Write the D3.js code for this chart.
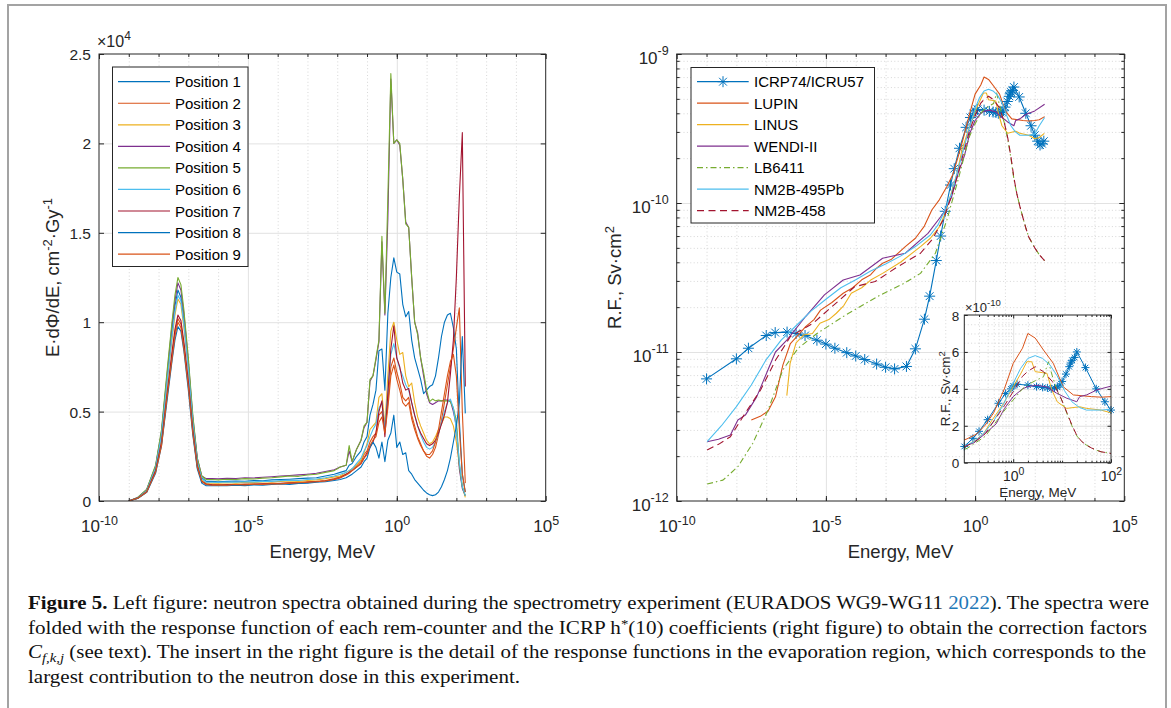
<!DOCTYPE html>
<html>
<head>
<meta charset="utf-8">
<script src="https://cdn.jsdelivr.net/npm/d3@7"></script>
<style>
  body { margin: 0; background: #fff; }
</style>
</head>
<body>
<svg id="fig" width="1171" height="708"></svg>
<script>
// ---------------- data ----------------
// left figure: log10(E / MeV) grid shared by the nine spectra
const spectrumLogE = [-9.0, -8.7, -8.4, -8.1, -7.9, -7.7, -7.55, -7.45, -7.35, -7.25, -7.15, -7.0, -6.85, -6.7, -6.55, -6.4,
  -6.2, -6.0, -5.7, -5.4, -5.1, -4.8, -4.5, -4.2, -3.9, -3.6, -3.3, -3.0, -2.7, -2.4, -2.1,
  -1.9, -1.7, -1.6, -1.5, -1.35, -1.2, -1.1, -1.0, -0.9, -0.8, -0.7, -0.6, -0.5, -0.4, -0.3, -0.2, -0.1,
  0.0, 0.1, 0.2, 0.3, 0.4, 0.5, 0.6, 0.7, 0.8, 0.9, 1.0, 1.1, 1.2, 1.3, 1.4, 1.5, 1.6, 1.7, 1.8, 1.9, 2.0, 2.1, 2.2, 2.3];

// E.dPhi/dE in units of 1e4 cm^-2.Gy^-1
const position1 = [0, 0.018, 0.06, 0.19, 0.38, 0.71, 0.95, 1.09, 1.18, 1.14, 1.01, 0.76, 0.45, 0.23, 0.13, 0.11,
  0.11, 0.108, 0.11, 0.112, 0.11, 0.115, 0.113, 0.118, 0.12, 0.122, 0.125, 0.128, 0.13, 0.14, 0.15,
  0.16, 0.17, 0.2, 0.21, 0.25, 0.28, 0.33, 0.36, 0.48, 0.54, 0.62, 0.84, 0.85, 0.62, 1.05, 1.25, 1.36,
  1.28, 1.27, 1.1, 1.03, 1.06, 0.9, 0.8, 0.74, 0.68, 0.6, 0.62, 0.64, 0.65, 0.7, 0.8, 0.92, 1.0, 1.04, 1.05, 0.97, 0.85, 0.45, 0.15, 0.05];
const position2 = [0, 0.015, 0.05, 0.165, 0.32, 0.61, 0.81, 0.94, 1.02, 0.99, 0.87, 0.65, 0.39, 0.19, 0.11, 0.093,
  0.09, 0.092, 0.09, 0.094, 0.093, 0.096, 0.095, 0.1, 0.098, 0.102, 0.105, 0.108, 0.11, 0.115, 0.125,
  0.135, 0.15, 0.16, 0.18, 0.2, 0.22, 0.26, 0.28, 0.33, 0.36, 0.38, 0.48, 0.5, 0.4, 0.55, 0.75, 0.8,
  0.72, 0.66, 0.58, 0.56, 0.58, 0.48, 0.42, 0.36, 0.32, 0.28, 0.25, 0.24, 0.26, 0.3, 0.37, 0.45, 0.55, 0.65, 0.75, 0.85, 0.97, 1.08, 0.5, 0.1];
const position3 = [0, 0.017, 0.056, 0.18, 0.36, 0.68, 0.9, 1.04, 1.13, 1.1, 0.97, 0.73, 0.43, 0.21, 0.12, 0.1,
  0.1, 0.1, 0.102, 0.1, 0.104, 0.103, 0.107, 0.106, 0.11, 0.112, 0.11, 0.115, 0.118, 0.125, 0.135,
  0.14, 0.16, 0.17, 0.18, 0.2, 0.23, 0.27, 0.32, 0.4, 0.42, 0.44, 0.58, 0.6, 0.42, 0.7, 0.95, 1.0,
  0.9, 0.82, 0.83, 0.7, 0.64, 0.66, 0.55, 0.47, 0.42, 0.38, 0.34, 0.32, 0.33, 0.36, 0.4, 0.43, 0.47, 0.47, 0.46, 0.42, 0.33, 0.2, 0.08, 0.02];
const position4 = [0, 0.019, 0.063, 0.195, 0.39, 0.73, 0.98, 1.12, 1.22, 1.18, 1.05, 0.78, 0.47, 0.24, 0.14, 0.125,
  0.125, 0.124, 0.127, 0.126, 0.13, 0.129, 0.133, 0.136, 0.14, 0.143, 0.146, 0.15, 0.155, 0.165, 0.175,
  0.19, 0.2, 0.28, 0.22, 0.29, 0.34, 0.41, 0.44, 0.67, 0.7, 0.79, 0.89, 1.45, 1.04, 1.58, 2.36, 2.0,
  2.02, 1.99, 1.8, 1.56, 1.53, 1.25, 1.0, 0.94, 0.8, 0.7, 0.6, 0.55, 0.54, 0.55, 0.56, 0.56, 0.565, 0.565, 0.56, 0.5, 0.42, 0.18, 0.07, 0.03];
const position5 = [0, 0.02, 0.065, 0.2, 0.4, 0.75, 1.0, 1.15, 1.25, 1.21, 1.07, 0.8, 0.48, 0.24, 0.14, 0.12,
  0.12, 0.118, 0.122, 0.12, 0.125, 0.123, 0.128, 0.13, 0.135, 0.14, 0.138, 0.145, 0.15, 0.16, 0.17,
  0.19, 0.2, 0.31, 0.22, 0.29, 0.34, 0.42, 0.44, 0.68, 0.7, 0.8, 0.9, 1.48, 1.05, 1.7, 2.39, 2.0,
  2.02, 2.0, 1.8, 1.55, 1.53, 1.25, 1.0, 0.93, 0.8, 0.72, 0.62, 0.556, 0.57, 0.56, 0.565, 0.56, 0.56, 0.56, 0.555, 0.52, 0.45, 0.2, 0.08, 0.03];
const position6 = [0, 0.017, 0.058, 0.185, 0.37, 0.69, 0.92, 1.06, 1.15, 1.12, 0.99, 0.74, 0.44, 0.22, 0.125, 0.105,
  0.105, 0.104, 0.106, 0.105, 0.108, 0.107, 0.11, 0.11, 0.114, 0.116, 0.115, 0.12, 0.123, 0.13, 0.14,
  0.15, 0.16, 0.17, 0.18, 0.21, 0.24, 0.28, 0.31, 0.36, 0.4, 0.43, 0.52, 0.55, 0.4, 0.62, 0.82, 0.88,
  0.8, 0.74, 0.7, 0.65, 0.62, 0.55, 0.48, 0.42, 0.37, 0.33, 0.3, 0.29, 0.3, 0.33, 0.38, 0.44, 0.5, 0.55, 0.57, 0.52, 0.4, 0.22, 0.08, 0.03];
const position7 = [0, 0.016, 0.052, 0.17, 0.33, 0.62, 0.83, 0.96, 1.04, 1.01, 0.89, 0.67, 0.4, 0.2, 0.11, 0.095,
  0.09, 0.088, 0.092, 0.09, 0.094, 0.092, 0.096, 0.095, 0.099, 0.1, 0.098, 0.104, 0.108, 0.112, 0.12,
  0.13, 0.15, 0.16, 0.17, 0.19, 0.21, 0.24, 0.27, 0.3, 0.33, 0.38, 0.5, 0.56, 0.36, 0.6, 0.85, 0.98,
  0.8, 0.75, 0.66, 0.62, 0.63, 0.55, 0.48, 0.42, 0.38, 0.35, 0.32, 0.31, 0.32, 0.34, 0.38, 0.43, 0.48, 0.55, 0.71, 0.9, 1.25, 1.7, 2.06, 0.64];
const position8 = [0, 0.014, 0.048, 0.155, 0.31, 0.58, 0.78, 0.9, 0.975, 0.95, 0.84, 0.62, 0.37, 0.18, 0.1, 0.085,
  0.085, 0.087, 0.085, 0.088, 0.086, 0.09, 0.088, 0.092, 0.095, 0.093, 0.098, 0.1, 0.105, 0.108, 0.115,
  0.12, 0.13, 0.14, 0.15, 0.17, 0.19, 0.22, 0.24, 0.3, 0.33, 0.3, 0.24, 0.33, 0.22, 0.34, 0.38, 0.48,
  0.3, 0.33, 0.26, 0.27, 0.17, 0.15, 0.12, 0.1, 0.08, 0.06, 0.045, 0.035, 0.03, 0.035, 0.05, 0.08, 0.12, 0.17, 0.24, 0.33, 0.42, 0.55, 0.92, 0.49];
const position9 = [0, 0.015, 0.05, 0.16, 0.31, 0.6, 0.79, 0.92, 1.0, 0.97, 0.85, 0.64, 0.38, 0.19, 0.11, 0.092,
  0.088, 0.09, 0.089, 0.092, 0.09, 0.094, 0.093, 0.097, 0.096, 0.1, 0.102, 0.105, 0.108, 0.112, 0.12,
  0.13, 0.145, 0.155, 0.17, 0.19, 0.21, 0.24, 0.26, 0.31, 0.34, 0.36, 0.44, 0.47, 0.38, 0.52, 0.7, 0.76,
  0.68, 0.62, 0.55, 0.53, 0.55, 0.46, 0.4, 0.35, 0.31, 0.28, 0.26, 0.26, 0.28, 0.33, 0.4, 0.5, 0.6, 0.7, 0.78, 0.82, 0.7, 0.4, 0.15, 0.05];

const positionNames = ["Position 1", "Position 2", "Position 3", "Position 4", "Position 5",
  "Position 6", "Position 7", "Position 8", "Position 9"];
const positionColors = ["#0072BD", "#D95319", "#EDB120", "#7E2F8E", "#77AC30", "#4DBEEE", "#A2142F", "#0072BD", "#D95319"];

// right figure: ICRP74 h*(10), energies in MeV, values in pSv.cm2
const icrpE = [1e-9, 1e-8, 2.53e-8, 1e-7, 2e-7, 5e-7, 1e-6, 2e-6, 5e-6, 1e-5, 2e-5, 5e-5, 1e-4, 2e-4, 5e-4, 1e-3, 2e-3, 5e-3,
  0.01, 0.02, 0.03, 0.05, 0.07, 0.1, 0.15, 0.2, 0.3, 0.5, 0.7, 0.9, 1, 1.2, 2, 3, 4, 5, 6, 7, 8, 9, 10,
  12, 14, 15, 16, 18, 20, 30, 50, 75, 100, 125, 150, 175, 201];
const icrpH = [6.6, 9.0, 10.6, 12.9, 13.5, 13.6, 13.3, 12.9, 12.0, 11.3, 10.6, 9.9, 9.4, 8.9, 8.3, 7.9, 7.7, 8.0,
  10.5, 16.6, 23.7, 41.1, 60.0, 88.0, 132, 170, 233, 322, 375, 400, 416, 425, 420, 412, 408, 405, 400, 405, 409, 420, 440,
  480, 520, 540, 555, 570, 600, 515, 400, 330, 285, 260, 245, 250, 260];

// rem-counter response functions: [log10(E / MeV), pSv.cm2]
const lupinRF = [[-7.5, 3.5], [-7.2, 3.7], [-6.94, 4.0], [-6.69, 5.0], [-6.44, 8.2], [-6.19, 11.4], [-5.9, 13.2], [-5.68, 14.8],
  [-5.4, 16.5], [-5.18, 19.1], [-4.8, 21.5], [-4.42, 24.8], [-4.1, 27], [-3.8, 30.5], [-3.5, 33], [-3.3, 36.5], [-3.1, 39.4],
  [-2.8, 42], [-2.34, 51], [-2.0, 58], [-1.7, 70], [-1.45, 89.7], [-1.2, 105], [-0.945, 129], [-0.75, 155], [-0.57, 204],
  [-0.4, 270], [-0.18, 400], [0, 538], [0.19, 620], [0.3, 700], [0.45, 675], [0.62, 610], [0.82, 538], [1.02, 412],
  [1.23, 367], [1.43, 362], [1.6, 358], [1.8, 355], [2.0, 358], [2.15, 362], [2.33, 380]];
const linusRF = [[-6.31, 5.1], [-6.2, 8.4], [-6.0, 11.5], [-5.75, 13.0], [-5.45, 13.3], [-5.2, 15.6], [-4.9, 16.5], [-4.65, 18.2],
  [-4.4, 20.5], [-4.15, 24.8], [-3.8, 27], [-3.5, 30.4], [-3.1, 33.7], [-2.5, 40], [-1.83, 51], [-1.5, 58], [-1.2, 69],
  [-1.0, 85], [-0.8, 116], [-0.6, 160], [-0.44, 227], [-0.2, 320], [0, 412], [0.15, 480], [0.28, 547], [0.38, 547],
  [0.45, 493], [0.6, 488], [0.69, 484], [0.79, 394], [0.9, 330], [1.09, 294], [1.36, 303], [1.5, 294], [1.8, 285],
  [2.0, 270], [2.15, 275], [2.32, 293]];
const wendiRF = [[-8.98, 2.5], [-8.6, 2.6], [-8.2, 2.77], [-7.95, 3.5], [-7.7, 3.77], [-7.32, 5.0], [-6.94, 7.6], [-6.69, 10.0],
  [-6.31, 12.0], [-5.68, 17.3], [-5.05, 24.2], [-4.42, 30.4], [-3.86, 32.9], [-3.1, 42.6], [-2.34, 46], [-1.58, 62.6],
  [-1.07, 85], [-0.8, 108], [-0.57, 158], [-0.35, 210], [-0.18, 293], [0, 358], [0.19, 400], [0.3, 412], [0.48, 420],
  [0.69, 410], [0.89, 376], [1.09, 350], [1.3, 330], [1.36, 358], [1.5, 367], [1.71, 394], [2.0, 415], [2.33, 460]];
const lb6411RF = [[-8.98, 1.3], [-8.45, 1.38], [-7.95, 1.7], [-7.45, 2.44], [-6.94, 4.07], [-6.44, 7.6], [-5.93, 10.6], [-5.3, 13.3],
  [-4.42, 17.3], [-3.67, 21.2], [-3.16, 24.2], [-2.41, 28.7], [-1.83, 33.7], [-1.33, 46], [-0.945, 77], [-0.57, 143],
  [-0.2, 276], [0, 340], [0.19, 400], [0.28, 420], [0.48, 448], [0.62, 466], [0.72, 547], [0.8, 470], [0.9, 390],
  [1.0, 335], [1.1, 265], [1.2, 200], [1.3, 145], [1.4, 115], [1.5, 95], [1.6, 80], [1.7, 68], [1.8, 59], [2.0, 50],
  [2.15, 45], [2.33, 41]];
const nm2b495RF = [[-8.98, 2.5], [-8.5, 3.2], [-8, 4.3], [-7.5, 6.0], [-7, 8.9], [-6.5, 12.0], [-6, 15.0], [-5.5, 18.8], [-5, 22.6],
  [-4.5, 27], [-4, 30.5], [-3.5, 35], [-3, 39], [-2.5, 44], [-2, 51], [-1.5, 61], [-1.25, 71], [-1, 90], [-0.8, 114],
  [-0.6, 160], [-0.4, 225], [-0.2, 315], [0, 430], [0.15, 510], [0.3, 565], [0.45, 580], [0.6, 565], [0.75, 530],
  [0.9, 470], [1.05, 390], [1.2, 330], [1.35, 300], [1.5, 285], [1.65, 285], [1.8, 285], [2.0, 290], [2.15, 330], [2.33, 375]];
const nm2b458RF = [[-8.98, 2.2], [-8.6, 2.4], [-8.2, 2.7], [-7.7, 3.9], [-7.19, 5.56], [-6.69, 8.8], [-6.19, 12.7], [-5.43, 15.6],
  [-4.67, 21.2], [-4.04, 27.4], [-3.35, 29.7], [-2.59, 37.4], [-1.83, 46], [-1.45, 56.5], [-1.07, 77], [-0.8, 110],
  [-0.57, 158], [-0.18, 309], [0, 385], [0.19, 468], [0.3, 495], [0.45, 520], [0.62, 493], [0.8, 440], [0.96, 360],
  [1.1, 270], [1.2, 205], [1.3, 148], [1.4, 115], [1.5, 95], [1.6, 80], [1.7, 68], [1.8, 59], [2.0, 50], [2.15, 45], [2.33, 41]];

const rfNames = ["ICRP74/ICRU57", "LUPIN", "LINUS", "WENDI-II", "LB6411", "NM2B-495Pb", "NM2B-458"];
const rfColors = ["#0072BD", "#D95319", "#EDB120", "#7E2F8E", "#77AC30", "#4DBEEE", "#A2142F"];
const rfDashes = [null, null, null, null, "6,3,1.5,3", null, "7,4.5"];

// tick values
const energyTicks = [1e-10, 1e-5, 1, 1e5];
const energyDecades = d3.range(-9, 5).map(e => 10 ** e);
const spectrumTicks = [0, 0.5, 1, 1.5, 2, 2.5];
const rfTicks = [1e-12, 1e-11, 1e-10, 1e-9];
const insetXTicks = [1, 100];
const insetYTicks = [0, 2, 4, 6, 8];   // x 1e-10

// ---------------- drawing ----------------
const FONT = '"Liberation Sans", Arial, Helvetica, sans-serif';
const INK = "#262626";
const svg = d3.select("#fig");

svg.append("rect").attr("x", 8).attr("y", 5).attr("width", 1158).attr("height", 740)
  .attr("fill", "none").attr("stroke", "#a3a3a3").attr("stroke-width", 2);

const defs = svg.append("defs");
function clip(id, b) {
  defs.append("clipPath").attr("id", id).append("rect")
    .attr("x", b.x0).attr("y", b.y0).attr("width", b.x1 - b.x0).attr("height", b.y1 - b.y0);
}

function grid(g, scale, vals, dir, b, major) {
  const len = dir === "x" ? b.y1 - b.y0 : b.x1 - b.x0;
  const ax = dir === "x" ? d3.axisBottom(scale) : d3.axisLeft(scale);
  const gg = g.append("g")
    .attr("transform", dir === "x" ? `translate(0,${b.y1})` : `translate(${b.x0},0)`)
    .call(ax.tickValues(vals).tickSize(-len).tickFormat(""));
  gg.select(".domain").remove();
  gg.selectAll("line")
    .attr("stroke", major ? "#e2e2e2" : "#cdcdcd")
    .attr("stroke-width", major ? 1 : 0.8)
    .attr("stroke-dasharray", major ? null : "1,2.4");
}

function ticks(g, scale, vals, b, size, sides) {
  const pos = {
    bottom: [d3.axisBottom, `translate(0,${b.y1})`], top: [d3.axisTop, `translate(0,${b.y0})`],
    left: [d3.axisLeft, `translate(${b.x0},0)`], right: [d3.axisRight, `translate(${b.x1},0)`]
  };
  sides.forEach(s => {
    const gg = g.append("g").attr("transform", pos[s][1])
      .call(pos[s][0](scale).tickValues(vals).tickSize(-size).tickFormat(""));
    gg.select(".domain").remove();
    gg.selectAll("line").attr("stroke", INK).attr("stroke-width", 1);
  });
}

function powerText(t, d, base, sup, rise) {
  t.text(null);
  t.append("tspan").attr("font-size", base).text("10");
  t.append("tspan").attr("font-size", sup).attr("dy", -rise).text(Math.round(Math.log10(d)));
}

function xLabels(g, scale, vals, b, y, fmt) {
  const gg = g.append("g").attr("transform", `translate(0,${b.y1})`)
    .call(d3.axisBottom(scale).tickValues(vals).tickSize(0).tickFormat(d => d));
  gg.select(".domain").remove();
  gg.attr("font-family", FONT);
  gg.selectAll("text").attr("y", y).attr("dy", null).attr("fill", INK)
    .each(function (d) { fmt(d3.select(this), d); });
}

function yLabels(g, scale, vals, b, x, y, size, fmt) {
  const gg = g.append("g").attr("transform", `translate(${b.x0},0)`)
    .call(d3.axisLeft(scale).tickValues(vals).tickSize(0).tickFormat(d => d));
  gg.select(".domain").remove();
  gg.attr("font-family", FONT).attr("font-size", size);
  gg.selectAll("text").attr("x", -x).attr("dy", null).attr("y", y).attr("fill", INK)
    .each(function (d) { fmt(d3.select(this), d); });
}

function box(g, b) {
  g.append("rect").attr("x", b.x0).attr("y", b.y0).attr("width", b.x1 - b.x0).attr("height", b.y1 - b.y0)
    .attr("fill", "none").attr("stroke", INK).attr("stroke-width", 1);
}

function star(r) {
  const a = r * 0.7071;
  return `M${-r},0H${r}M0,${-r}V${r}M${-a},${-a}L${a},${a}M${-a},${a}L${a},${-a}`;
}

function label(g, x, y, rotate, size, parts) {
  const t = g.append("text").attr("font-family", FONT).attr("font-size", size).attr("fill", INK)
    .attr("text-anchor", "middle")
    .attr("transform", `translate(${x},${y})` + (rotate ? " rotate(-90)" : ""));
  let shift = 0;
  parts.forEach(p => {
    const s = p.sup ? -size * 0.38 : 0;
    const ts = t.append("tspan").text(p.t);
    if (s !== shift) ts.attr("dy", s - shift);
    if (p.sup) ts.attr("font-size", size * 0.7);
    shift = s;
  });
  return t;
}

// ---------- left panel ----------
const BL = { x0: 99, x1: 545.7, y0: 54, y1: 501 };
const xL = d3.scaleLog().domain([1e-10, 1e5]).range([BL.x0, BL.x1]);
const yL = d3.scaleLinear().domain([0, 2.5]).range([BL.y1, BL.y0]);
clip("clipL", BL);

const gL = svg.append("g");
gL.append("rect").attr("x", BL.x0).attr("y", BL.y0).attr("width", BL.x1 - BL.x0).attr("height", BL.y1 - BL.y0).attr("fill", "#fff");
grid(gL, xL, energyDecades.filter(v => ![1e-5, 1].includes(v)), "x", BL, false);
grid(gL, xL, [1e-5, 1], "x", BL, true);
grid(gL, yL, spectrumTicks.slice(1, -1), "y", BL, true);

const positions = [position1, position2, position3, position4, position5, position6, position7, position8, position9];
const lineL = d3.line().defined(d => d[1] != null).x(d => xL(10 ** d[0])).y(d => yL(d[1]));
positions.forEach((vals, i) => {
  gL.append("path").datum(spectrumLogE.map((e, k) => [e, vals[k]]))
    .attr("d", lineL).attr("fill", "none").attr("stroke", positionColors[i])
    .attr("stroke-width", 1.1).attr("stroke-linejoin", "round").attr("clip-path", "url(#clipL)");
});

ticks(gL, xL, energyTicks, BL, 5, ["bottom", "top"]);
ticks(gL, xL, energyDecades, BL, 3, ["bottom", "top"]);
ticks(gL, yL, spectrumTicks, BL, 5, ["left", "right"]);
box(gL, BL);
xLabels(gL, xL, energyTicks, BL, 31, (t, d) => powerText(t, d, 17, 12.5, 7));
yLabels(gL, yL, spectrumTicks, BL, 8, 5.5, 15.5, (t, d) => t.text(d));

const mult = gL.append("text").attr("x", 97).attr("y", 47).attr("font-family", FONT).attr("fill", INK).attr("font-size", 16);
mult.append("tspan").text("\u00d710");
mult.append("tspan").attr("font-size", 12).attr("dy", -7).text("4");

label(gL, (BL.x0 + BL.x1) / 2, 558, false, 18.5, [{ t: "Energy, MeV" }]);
label(gL, 59, (BL.y0 + BL.y1) / 2, true, 18.5,
  [{ t: "E\u00b7d\u03a6/dE, cm" }, { t: "-2", sup: true }, { t: "\u00b7Gy" }, { t: "-1", sup: true }]);

// legend left
const legL = gL.append("g");
legL.append("rect").attr("x", 112.5).attr("y", 67).attr("width", 135.5).attr("height", 199.5)
  .attr("fill", "#fff").attr("stroke", INK).attr("stroke-width", 1);
positionNames.forEach((n, i) => {
  const y = 81.7 + i * 21.55;
  legL.append("line").attr("x1", 118).attr("x2", 170).attr("y1", y).attr("y2", y)
    .attr("stroke", positionColors[i]).attr("stroke-width", 1.2);
  legL.append("text").attr("x", 175).attr("y", y + 5.5).attr("font-family", FONT).attr("font-size", 15)
    .attr("fill", "#000").text(n);
});

// ---------- right panel ----------
const BR = { x0: 676.7, x1: 1124.3, y0: 54, y1: 501 };
const xR = d3.scaleLog().domain([1e-10, 1e5]).range([BR.x0, BR.x1]);
const yR = d3.scaleLog().domain([1e-12, 1e-9]).range([BR.y1, BR.y0]);
clip("clipR", BR);
const rfMinor = [];
[-12, -11, -10].forEach(e => { for (let m = 2; m <= 9; m++) rfMinor.push(m * 10 ** e); });

const gR = svg.append("g");
gR.append("rect").attr("x", BR.x0).attr("y", BR.y0).attr("width", BR.x1 - BR.x0).attr("height", BR.y1 - BR.y0).attr("fill", "#fff");
grid(gR, xR, energyDecades.filter(v => ![1e-5, 1].includes(v)), "x", BR, false);
grid(gR, yR, rfMinor, "y", BR, false);
grid(gR, xR, [1e-5, 1], "x", BR, true);
grid(gR, yR, [1e-11, 1e-10], "y", BR, true);

const icrp = icrpE.map((e, i) => [e, icrpH[i]]);
const rfCurves = [lupinRF, linusRF, wendiRF, lb6411RF, nm2b495RF, nm2b458RF];

function drawRF(g, xs, ys, conv, clipId, sw, mr, markerFilter) {
  const lineE = d3.line().x(d => xs(d[0])).y(d => ys(conv(d[1])));
  g.append("path").datum(icrp).attr("d", lineE).attr("fill", "none").attr("stroke", rfColors[0])
    .attr("stroke-width", sw).attr("clip-path", `url(#${clipId})`);
  g.selectAll(null).data(icrp.filter(markerFilter)).enter().append("path")
    .attr("transform", d => `translate(${xs(d[0])},${ys(conv(d[1]))})`)
    .attr("d", star(mr)).attr("fill", "none").attr("stroke", rfColors[0]).attr("stroke-width", 1);
  const lineLog = d3.line().x(d => xs(10 ** d[0])).y(d => ys(conv(d[1])));
  rfCurves.forEach((c, i) => {
    g.append("path").datum(c).attr("d", lineLog).attr("fill", "none").attr("stroke", rfColors[i + 1])
      .attr("stroke-width", sw).attr("stroke-dasharray", rfDashes[i + 1])
      .attr("stroke-linejoin", "round").attr("clip-path", `url(#${clipId})`);
  });
}
drawRF(gR, xR, yR, v => v * 1e-12, "clipR", 1.1, 5.5, () => true);

ticks(gR, xR, energyTicks, BR, 5, ["bottom", "top"]);
ticks(gR, xR, energyDecades, BR, 3, ["bottom", "top"]);
ticks(gR, yR, rfTicks, BR, 5, ["left", "right"]);
ticks(gR, yR, rfMinor, BR, 3, ["left", "right"]);
box(gR, BR);
xLabels(gR, xR, energyTicks, BR, 31, (t, d) => powerText(t, d, 17, 12.5, 7));
yLabels(gR, yR, rfTicks, BR, 8, 9.3, 17, (t, d) => powerText(t, d, 17, 12.5, 9));

label(gR, (BR.x0 + BR.x1) / 2, 558, false, 18.5, [{ t: "Energy, MeV" }]);
label(gR, 621, (BR.y0 + BR.y1) / 2, true, 18.5, [{ t: "R.F., Sv\u00b7cm" }, { t: "2", sup: true }]);

// legend right
const legR = gR.append("g");
legR.append("rect").attr("x", 691).attr("y", 67.5).attr("width", 183.5).attr("height", 155.5)
  .attr("fill", "#fff").attr("stroke", INK).attr("stroke-width", 1);
rfNames.forEach((n, i) => {
  const y = 81.7 + i * 21.5;
  legR.append("line").attr("x1", 697).attr("x2", 748.7).attr("y1", y).attr("y2", y)
    .attr("stroke", rfColors[i]).attr("stroke-width", 1.2).attr("stroke-dasharray", rfDashes[i]);
  if (i === 0) legR.append("path").attr("transform", `translate(723,${y})`).attr("d", star(5.5))
    .attr("fill", "none").attr("stroke", rfColors[0]).attr("stroke-width", 1);
  legR.append("text").attr("x", 754).attr("y", y + 5.5).attr("font-family", FONT).attr("font-size", 15)
    .attr("fill", "#000").text(n);
});

// ---------- inset ----------
const BI = { x0: 964.3, x1: 1111, y0: 315, y1: 462.7 };
const xI = d3.scaleLog().domain([0.1, 100]).range([BI.x0, BI.x1]);
const yI = d3.scaleLinear().domain([0, 8]).range([BI.y1, BI.y0]);
clip("clipI", BI);
const insetMinorX = [];
[-1, 0, 1].forEach(e => { for (let m = 2; m <= 9; m++) insetMinorX.push(m * 10 ** e); });
const insetMinorY = d3.range(0.5, 8, 0.5).filter(v => v % 2 !== 0);

const gI = svg.append("g");
gI.append("rect").attr("x", BI.x0).attr("y", BI.y0).attr("width", BI.x1 - BI.x0).attr("height", BI.y1 - BI.y0).attr("fill", "#fff");
grid(gI, xI, insetMinorX.concat([10]), "x", BI, false);
grid(gI, yI, insetMinorY, "y", BI, false);
grid(gI, xI, [1], "x", BI, true);
grid(gI, yI, [2, 4, 6], "y", BI, true);
drawRF(gI, xI, yI, v => v / 100, "clipI", 1, 4, d => d[0] >= 0.1 && d[0] <= 100);
ticks(gI, xI, insetXTicks, BI, 3.5, ["bottom", "top"]);
ticks(gI, xI, insetMinorX.concat([10]), BI, 2, ["bottom", "top"]);
ticks(gI, yI, insetYTicks, BI, 3.5, ["left", "right"]);
box(gI, BI);
xLabels(gI, xI, insetXTicks, BI, 18, (t, d) => powerText(t, d, 14, 10.5, 6));
yLabels(gI, yI, insetYTicks, BI, 5, 5, 13.5, (t, d) => t.text(d));

const multI = gI.append("text").attr("x", 965).attr("y", 311.5).attr("font-family", FONT).attr("fill", INK).attr("font-size", 13);
multI.append("tspan").text("\u00d710");
multI.append("tspan").attr("font-size", 9.5).attr("dy", -5.5).text("-10");
label(gI, (BI.x0 + BI.x1) / 2, 497, false, 13.5, [{ t: "Energy, MeV" }]);
label(gI, 950, (BI.y0 + BI.y1) / 2, true, 13.5, [{ t: "R.F., Sv\u00b7cm" }, { t: "2", sup: true }]);

// ---------- caption ----------
const captionLines = [
  [{ t: "Figure 5.", b: true }, { t: " Left figure: neutron spectra obtained during the spectrometry experiment (EURADOS WG9-WG11 " },
   { t: "2022", c: "#1f78b8" }, { t: "). The spectra were" }],
  [{ t: "folded with the response function of each rem-counter and the ICRP h" }, { t: "*", sup: true },
   { t: "(10) coefficients (right figure) to obtain the correction factors" }],
  [{ t: "C", i: true }, { t: "f,k,j", sub: true, i: true },
   { t: " (see text). The insert in the right figure is the detail of the response functions in the evaporation region, which corresponds to the" }],
  [{ t: "largest contribution to the neutron dose in this experiment." }]
];
const capY = [609, 633.5, 658, 682.5];
const capWidth = [1121, 1119, 1118, 492];
captionLines.forEach((parts, li) => {
  const t = svg.append("text").attr("font-family", '"Liberation Serif", "Times New Roman", serif')
    .attr("font-size", 18.5).attr("fill", "#111")
    .attr("x", 28).attr("y", capY[li])
    .attr("textLength", capWidth[li]).attr("lengthAdjust", "spacingAndGlyphs");
  let shift = 0;
  parts.forEach(p => {
    const s = p.sup ? -6 : p.sub ? 4 : 0;
    const ts = t.append("tspan").text(p.t);
    if (s !== shift) ts.attr("dy", s - shift);
    shift = s;
    if (p.sup || p.sub) ts.attr("font-size", 13);
    if (p.b) ts.attr("font-weight", "bold");
    if (p.i) ts.attr("font-style", "italic");
    if (p.c) ts.attr("fill", p.c);
  });
});
</script>
</body>
</html>
